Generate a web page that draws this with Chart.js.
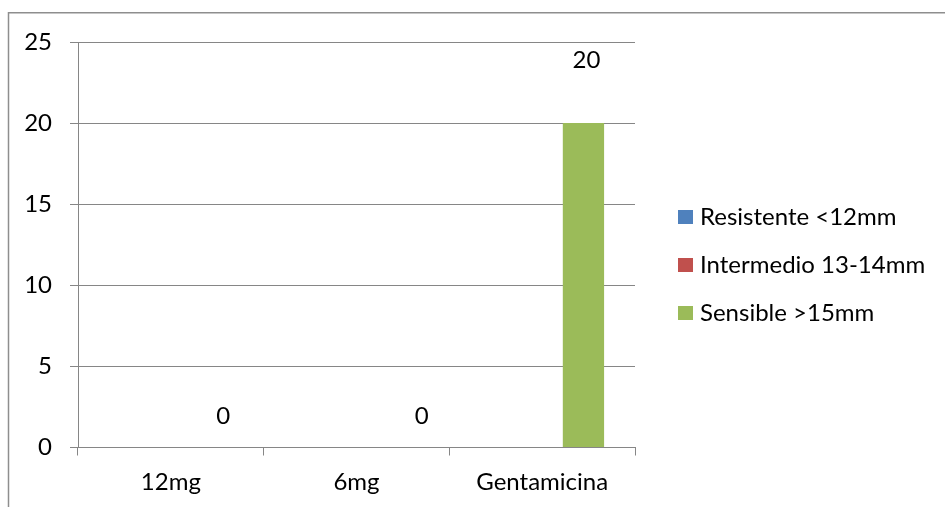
<!DOCTYPE html>
<html>
<head>
<meta charset="utf-8">
<title>Antibiograma</title>
<script src="https://cdn.jsdelivr.net/npm/chart.js@4/dist/chart.umd.min.js"></script>
<style>
  html, body { margin: 0; padding: 0; background: #fff; }
  canvas { display: block; }
</style>
</head>
<body>
<canvas id="chart" width="945" height="507"></canvas>
<script>
const categories = ['12mg', '6mg', 'Gentamicina'];
const resistente = [0, 0, 0];
const intermedio = [0, 0, 0];
const sensible = [0, 0, 20];
const yTicks = [0, 5, 10, 15, 20, 25];

const FONT = 'Lato, "Open Sans", sans-serif';
const FONT_SIZE = 24;
const GRID = '#868686';

// frame around the whole chart (runs off the right and bottom edges)
const frame = {
    id: 'frame',
    beforeDraw(chart) {
        const ctx = chart.ctx;
        ctx.save();
        ctx.strokeStyle = '#8e8e8e';
        ctx.lineWidth = 1.5;
        ctx.strokeRect(8.5, 12.75, chart.width + 20, chart.height + 20);
        ctx.restore();
    }
};

// value labels above the "Sensible" bars
const valueLabels = {
    id: 'valueLabels',
    afterDatasetsDraw(chart, args, opts) {
        const ctx = chart.ctx;
        const meta = chart.getDatasetMeta(opts.dataset);
        const values = chart.data.datasets[opts.dataset].data;
        ctx.save();
        ctx.font = FONT_SIZE + 'px ' + FONT;
        ctx.fillStyle = '#000';
        ctx.textAlign = 'center';
        ctx.textBaseline = 'middle';
        meta.data.forEach((bar, i) => {
            const nudge = opts.nudge[i] || [0, 0];
            ctx.fillText(String(values[i]), bar.x + nudge[0], bar.y + nudge[1]);
        });
        ctx.restore();
    }
};

// legend on the right side, one entry per dataset
const sideLegend = {
    id: 'sideLegend',
    afterDraw(chart, args, opts) {
        const ctx = chart.ctx;
        ctx.save();
        ctx.font = FONT_SIZE + 'px ' + FONT;
        ctx.textBaseline = 'middle';
        chart.data.datasets.forEach((ds, i) => {
            const y = opts.top + i * opts.spacing;
            ctx.fillStyle = ds.backgroundColor;
            ctx.fillRect(opts.left, y - 7, 15, 14);
            ctx.fillStyle = '#000';
            ctx.fillText(ds.label, opts.left + 22, y);
        });
        ctx.restore();
    }
};

new Chart(document.getElementById('chart'), {
    type: 'bar',
    data: {
        labels: categories,
        datasets: [
            { label: 'Resistente <12mm', data: resistente, backgroundColor: '#4F81BD' },
            { label: 'Intermedio 13-14mm', data: intermedio, backgroundColor: '#C0504D' },
            { label: 'Sensible >15mm', data: sensible, backgroundColor: '#9BBB59' }
        ]
    },
    options: {
        responsive: false,
        animation: false,
        categoryPercentage: 0.667,
        barPercentage: 1,
        layout: { padding: { left: 0, top: 42, right: 310, bottom: 0 } },
        plugins: {
            legend: { display: false },
            tooltip: { enabled: false },
            valueLabels: { dataset: 2, nudge: [[11, -31], [24, -31], [3, -63]] },
            sideLegend: { left: 678, top: 217, spacing: 48 }
        },
        scales: {
            x: {
                afterFit: scale => { scale.height = 59.5; },
                grid: {
                    offset: true,
                    drawOnChartArea: false,
                    drawTicks: true,
                    tickLength: 8,
                    color: GRID
                },
                border: { color: GRID, width: 1 },
                ticks: { color: '#000', font: { family: FONT, size: FONT_SIZE }, padding: 12 }
            },
            y: {
                min: 0,
                max: 25,
                afterFit: scale => { scale.width = 78; },
                afterBuildTicks: scale => { scale.ticks = yTicks.map(v => ({ value: v })); },
                grid: { color: GRID, tickLength: 8 },
                border: { color: GRID, width: 1 },
                ticks: { color: '#000', font: { family: FONT, size: FONT_SIZE }, padding: 18 }
            }
        }
    },
    plugins: [frame, valueLabels, sideLegend]
});
</script>
</body>
</html>
